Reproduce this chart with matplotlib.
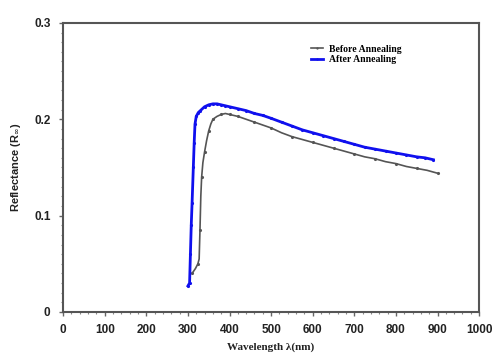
import matplotlib.pyplot as plt
from matplotlib.ticker import MultipleLocator

# reflectance spectra, wavelength in nm
wl_before = [310, 318, 324, 327, 329, 331, 333, 336, 340, 345, 350, 355, 360,
             370, 380, 390, 400, 410, 420, 440, 460, 480, 500, 525, 550, 575,
             600, 625, 650, 675, 700, 725, 750, 775, 800, 825, 850, 875, 900]
r_before = [0.040, 0.045, 0.050, 0.055, 0.085, 0.120, 0.140, 0.155, 0.166,
            0.178, 0.188, 0.195, 0.200, 0.203, 0.205, 0.206, 0.205, 0.204,
            0.203, 0.200, 0.197, 0.194, 0.191, 0.186, 0.182, 0.179, 0.176,
            0.173, 0.170, 0.167, 0.164, 0.161, 0.159, 0.156, 0.154, 0.151,
            0.149, 0.147, 0.144]

wl_after = [300, 304, 306, 308, 310, 313, 315, 317, 320, 325, 330, 340, 350,
            360, 370, 380, 390, 400, 420, 440, 460, 480, 500, 525, 550, 575,
            600, 625, 650, 675, 700, 725, 750, 775, 800, 825, 850, 870, 890]
r_after = [0.027, 0.030, 0.060, 0.090, 0.113, 0.150, 0.175, 0.195, 0.203,
           0.207, 0.209, 0.213, 0.215, 0.216, 0.216, 0.215, 0.214, 0.213,
           0.211, 0.209, 0.206, 0.204, 0.201, 0.197, 0.193, 0.189, 0.186,
           0.183, 0.180, 0.177, 0.174, 0.171, 0.169, 0.167, 0.165, 0.163,
           0.161, 0.160, 0.158]

plt.rcParams['font.family'] = ['Liberation Sans', 'DejaVu Sans']

fig = plt.figure(figsize=(4.97, 3.64), dpi=100)
ax = fig.add_axes([0.127, 0.143, 0.837, 0.794])

ax.plot(wl_before, r_before, color='#555555', lw=1.2, marker='.', ms=2.5,
        markevery=2, label='Before Annealing')
ax.plot(wl_after, r_after, color='#1010ee', lw=2.0, marker='.', ms=2.5,
        label='After Annealing')

ax.set_xlim(0, 1000)
ax.set_ylim(0, 0.3)
ax.xaxis.set_major_locator(MultipleLocator(100))
ax.xaxis.set_minor_locator(MultipleLocator(20))
ax.yaxis.set_minor_locator(MultipleLocator(0.01))
ax.set_yticks([0, 0.1, 0.2, 0.3])
ax.set_yticklabels(['0', '0.1', '0.2', '0.3'])

ax.tick_params(which='major', direction='out', length=3, width=1,
               color='#666666', labelsize=8.5, pad=6)
ax.tick_params(which='minor', direction='out', length=1.5, width=0.8,
               color='#888888')
for lab in ax.get_xticklabels() + ax.get_yticklabels():
    lab.set_fontweight('bold')
    lab.set_color('#222222')

for sp in ax.spines.values():
    sp.set_color('#555555')
    sp.set_linewidth(1.5)

ax.set_ylabel(r'Reflectance (R$_{\infty}$)', fontsize=8, fontweight='bold',
              color='#222222', labelpad=8)
ax.set_xlabel('Wavelength λ(nm)', fontsize=8, fontweight='bold',
              family='Liberation Serif', color='#222222', labelpad=4)

ax.legend(loc='upper left', bbox_to_anchor=(0.575, 0.955), frameon=False,
          prop={'family': 'Liberation Serif', 'weight': 'bold', 'size': 7},
          handlelength=1.2, handletextpad=0.6, labelspacing=0.15,
          markerscale=0.5)

fig.savefig('out.png', dpi=100)
